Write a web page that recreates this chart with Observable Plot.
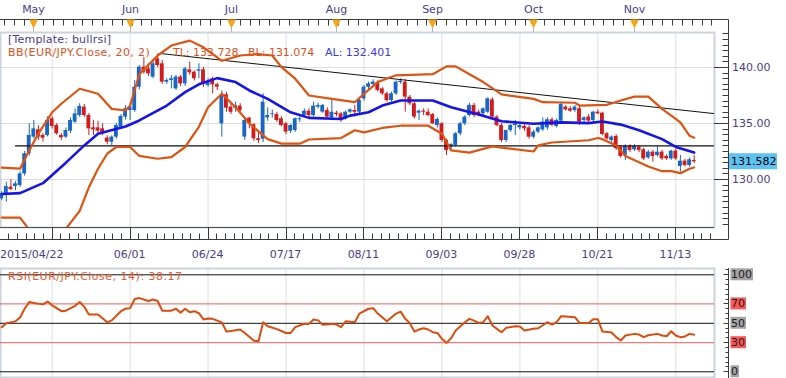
<!DOCTYPE html>
<html><head><meta charset="utf-8">
<script src="https://cdn.jsdelivr.net/npm/d3@7"></script>
<script src="https://cdn.jsdelivr.net/npm/@observablehq/plot@0.6"></script>
<style>
html,body{margin:0;padding:0;background:#fff;}
#wrap{position:relative;width:786px;height:378px;overflow:hidden;background:#fff;}
#wrap svg{position:absolute;left:0;overflow:visible;}
</style></head>
<body><div id="wrap"></div>
<script>
// ---- data: trading-day index 0 = 2015/04/22 (EUR/JPY daily) ----
const open = [128.27,128.72,129.31,129.37,129.46,130.5,132.29,133.78,134.43,133.93,
133.93,135.42,134.82,133.93,133.78,134.31,135.12,135.71,136.46,135.71,
134.61,134.61,134.52,133.69,133.33,133.78,134.67,135.57,136.16,136.16,
138.24,140.03,139.88,139.14,140.77,140.33,138.69,138.84,138.09,139.14,
138.54,139.79,139.58,139.67,139.79,138.39,138.99,138.46,134.97,137.56,
136.46,136.37,136.55,133.78,135.47,134.88,133.63,133.6,135.5,135.8,
135.8,135.42,134.97,134.31,134.37,135.33,135.71,136.1,135.71,136.46,
136.01,136.16,135.5,135.92,135.86,135.42,136.01,136.16,136.01,137.2,
138.24,138.48,138.6,138.09,137.65,137.05,137.65,138.66,138.69,137.35,
136.76,135.92,136.1,136.01,135.8,134.82,134.97,133.48,132.89,133.04,
134.08,134.97,135.71,136.61,136.01,135.86,136.01,137.11,135.57,134.82,
133.48,134.37,134.82,134.61,134.73,134.61,133.78,134.23,134.43,134.61,
135.33,134.73,135.21,136.46,136.31,136.16,136.31,135.27,135.57,135.27,
136.01,135.92,134.08,133.48,133.84,132.89,132.14,132.95,132.65,132.89,
132.65,131.93,132.44,132.14,132.44,132.05,131.84,132.53,131.16,131.64,
131.25,131.7];
const high = [128.9,129.76,129.97,129.8,130.7,132.5,134.97,135.27,134.8,134.1,
135.6,135.6,135.0,134.1,134.6,135.5,136.3,136.76,136.7,135.9,
135.27,135.2,134.97,133.9,133.9,135.0,135.8,136.6,136.8,138.84,
140.18,140.92,140.33,140.62,141.22,140.62,139.0,139.28,139.3,139.3,
140.03,140.48,139.7,140.33,140.0,139.0,139.13,138.6,137.9,137.8,
136.8,136.9,136.76,135.5,135.56,135.0,134.2,137.65,136.4,136.2,
136.0,135.6,135.1,134.9,135.5,135.6,136.3,136.3,136.9,136.8,
136.7,136.4,137.05,136.1,136.0,136.1,136.3,136.61,137.2,138.4,
138.7,138.9,138.8,138.2,137.8,137.8,138.8,139.0,138.9,137.5,
136.9,136.2,136.3,136.3,135.9,135.5,135.1,133.6,133.2,134.2,
135.1,135.7,136.8,136.8,136.2,136.4,137.3,137.3,135.7,135.0,
134.4,134.9,135.27,135.0,134.9,134.8,134.4,134.7,135.5,135.5,
135.5,135.4,136.8,136.6,136.5,136.6,136.5,135.6,135.8,136.1,
136.2,136.0,134.2,133.9,134.0,133.0,133.1,133.1,133.1,133.0,
132.8,132.6,132.6,132.95,132.6,132.2,132.6,132.7,132.14,131.8,
131.9,132.14];
const low = [128.1,127.97,129.0,129.0,129.3,130.3,132.1,133.6,133.5,133.33,
133.8,134.5,133.95,133.5,133.65,134.1,135.0,135.55,135.55,133.93,
133.93,134.0,133.9,133.1,133.04,133.6,134.5,135.3,135.27,136.0,
138.0,139.4,139.2,139.0,140.0,138.5,138.5,138.09,137.95,138.3,
138.3,139.3,138.8,138.99,138.24,138.24,137.65,137.95,133.78,136.0,
135.8,136.0,136.0,133.5,134.53,133.4,133.2,133.3,135.2,135.5,
135.1,134.7,134.0,134.1,134.2,135.1,135.5,135.5,135.6,136.3,
135.9,135.4,135.4,135.6,135.1,135.3,135.9,135.57,135.9,137.0,
138.0,138.3,137.8,137.5,136.9,136.9,137.5,138.5,136.01,136.6,
135.4,135.27,135.7,135.6,134.9,134.6,133.3,132.14,132.6,132.9,
133.9,134.8,135.6,135.5,135.6,135.7,135.9,135.4,134.7,133.3,
133.3,134.2,133.93,134.4,134.3,133.6,133.6,134.1,134.3,134.4,
134.7,134.6,135.1,136.1,136.0,136.0,134.82,135.1,135.1,135.1,
135.8,133.9,133.5,133.3,132.6,131.9,131.7,132.4,132.5,132.4,
131.7,131.8,131.55,132.0,131.7,131.7,131.7,131.7,130.65,131.1,
131.1,131.4];
const close = [128.72,129.37,129.1,129.61,130.5,132.29,133.93,134.52,133.78,133.69,
135.27,134.73,134.08,133.72,134.37,135.27,135.86,136.52,135.71,134.52,
134.43,134.31,134.08,133.33,133.78,134.82,135.62,136.31,136.46,138.24,
140.03,139.58,139.43,140.33,140.18,138.69,138.84,138.99,139.14,138.54,
139.88,139.52,138.99,139.79,138.54,138.69,138.46,138.24,137.44,136.37,
136.0,136.6,136.16,135.27,134.97,133.63,133.48,136.9,135.71,135.86,
135.27,134.82,134.23,134.82,135.42,135.42,136.1,135.71,136.55,136.61,
136.61,135.57,136.01,135.8,135.27,136.01,136.22,136.01,137.05,138.24,
138.54,138.69,137.95,137.65,137.05,137.65,138.69,138.78,137.35,136.76,
135.57,136.1,136.01,135.71,134.97,135.36,133.48,132.59,133.12,134.08,
134.97,135.57,136.61,135.71,135.71,136.31,137.2,135.57,134.82,133.48,
134.37,134.82,134.97,134.82,134.52,133.78,134.23,134.61,135.12,135.33,
134.82,135.27,136.7,136.22,136.1,136.46,135.12,135.5,135.21,136.01,
135.86,134.02,133.63,133.78,132.74,132.05,132.95,132.59,132.95,132.59,
131.84,132.44,132.05,132.44,131.84,131.84,132.53,131.84,131.64,131.25,
131.76,131.582];

// Bollinger bands (20, 2) as [dayIndex, value]
const bbUpper = [[0,131.05],[4,130.96],[6,132.6],[8,134.1],[11,136.0],[13,136.76],[17,138.1],[21,137.65],[24,136.3],[27,136.16],[28,136.6],[30,139.4],[34,141.07],[37,141.96],[41,142.4],[44,141.8],[48,140.6],[52,141.07],[56,141.2],[59,141.07],[61,140.03],[64,139.0],[67,137.5],[72,137.2],[77,136.9],[79,137.65],[82,138.7],[86,139.3],[94,139.4],[97,140.1],[99,140.1],[102,139.4],[105,138.7],[109,137.6],[116,137.2],[118,136.9],[125,136.85],[126,136.6],[132,136.67],[135,137.05],[138,137.4],[141,137.4],[144,136.3],[148,135.1],[150,133.9],[151,133.728]];
const bbMid = [[0,128.7],[4,128.78],[9,129.67],[14,131.5],[18,133.04],[21,134.08],[27,134.73],[30,135.27],[36,136.6],[40,137.8],[43,138.5],[47,139.05],[51,138.7],[54,137.95],[58,137.2],[63,136.0],[67,135.5],[74,135.4],[76,135.7],[80,136.0],[83,136.6],[87,137.05],[94,137.05],[98,136.45],[104,135.8],[109,135.2],[116,134.97],[122,135.1],[128,135.03],[131,135.18],[135,134.9],[139,134.4],[144,133.6],[147,132.9],[151,132.401]];
const bbLower = [[0,126.6],[4,126.6],[6,125.5],[9,124.2],[12,124.4],[14,125.6],[17,127.2],[19,129.3],[21,130.96],[23,132.3],[25,132.9],[28,132.9],[30,132.1],[34,131.85],[37,132.0],[40,132.9],[43,134.7],[45,136.45],[48,137.65],[51,136.45],[54,135.0],[58,133.6],[61,133.2],[65,133.2],[67,133.57],[74,133.7],[77,134.4],[79,134.2],[83,134.6],[87,134.8],[93,134.8],[96,134.08],[98,132.6],[102,132.4],[107,132.95],[109,132.85],[116,132.5],[117,133.04],[120,133.3],[128,133.5],[130,133.7],[131,133.6],[134,133.04],[136,132.1],[141,131.16],[144,130.74],[146,130.74],[148,130.56],[150,130.96],[151,131.074]];
// drawn lines: falling trend line and horizontal level
const trendLine = [[35,141.23],[155.4,135.88]];
const levelLine = [[3,133.0],[155.4,133.0]];
// RSI(14) as [dayIndex, value]
const rsi = [[0,46],[1,50],[3,52],[4,56],[5,65],[6,72],[7,71],[9,69.5],[10,72.5],[11,68.5],[13,62.5],[14,63],[16,68],[17,72],[18,67],[19,59],[21,59],[23,51],[24,53],[26,62.5],[27,65],[28,65.6],[29,75],[30,76],[32,73],[33,74.5],[34,73],[35,63],[37,63],[38,65],[39,61],[40,65],[41,61.4],[42,62.5],[43,60.4],[44,54],[45,55],[46,54.6],[48,51],[49,41.5],[50,42],[52,43.6],[53,40],[55,32],[56,31.5],[57,51],[58,47],[60,44],[62,40],[63,40],[64,46],[66,49.5],[67,49.4],[68,54],[69,53],[70,48.4],[72,49.4],[73,48.7],[74,46],[75,52],[77,51],[78,60],[80,65],[81,65.6],[82,60],[84,52],[86,60],[87,62],[88,54.6],[89,50.1],[90,41.5],[91,43.6],[92,44.9],[93,43.6],[94,40.8],[95,40.1],[96,34],[97,29.8],[98,34.6],[99,42.5],[101,51.1],[102,54.6],[103,52.8],[104,50.4],[105,51.1],[106,57.3],[107,47.7],[108,44.3],[109,40.8],[110,45.3],[112,47],[113,46.7],[114,42.5],[116,44.3],[117,44.9],[119,51.1],[120,48.7],[121,51.1],[122,57.3],[123,57],[125,56.3],[126,50.4],[128,50.4],[129,54.2],[130,54.2],[131,41.5],[133,40.5],[134,35.7],[135,32.2],[136,37.4],[138,39.1],[139,38.4],[140,35.7],[141,37.7],[143,39.1],[144,37.4],[145,36.7],[146,41.8],[147,37.4],[148,35.7],[149,36.4],[150,39.1],[151,38.17]];

// axis ticks / labels
const monthIdx = [7, 28, 50, 73, 94, 116, 138];
const monthLabels = ["May","Jun","Jul","Aug","Sep","Oct","Nov"];
const gridIdx = [11, 28, 45, 62, 79, 96, 113, 130, 147];
const dateIdx = [0, 28, 45, 62, 79, 96, 113, 130, 147];
const dateLabels = ["2015/04/22","06/01","06/24","07/17","08/11","09/03","09/28","10/21","11/13"];
const priceTicks = [130, 135, 140];
const rsiBlack = [0, 50, 100];
const rsiRed = [30, 70];
const rsiTicks = [100, 70, 50, 30, 0];

// ---- styles ----
const FONT = "DejaVu Sans, Verdana, sans-serif";
const UPC = "#1866c6", DNC = "#d41b1b", BAND = "#e0520e", MID = "#1414ee";
const AXIS = "#3a3a3a", LABEL = "#4a3c8c", GRID = "#dedede", BORDER = "#cad3de";
const xDomain = [-0.27, 155.44];
const yDomain = [125.71, 143.125];
const rDomain = [-5.88, 106.5];

const candles = close.map((c, i) => ({i, o: open[i], h: high[i], l: low[i], c, up: c >= open[i]}));
const P = d => d[0], V = d => d[1];

const mainChart = Plot.plot({
  width: 786, height: 260,
  marginLeft: 0, marginRight: 72, marginTop: 32, marginBottom: 33,
  x: {domain: xDomain, axis: null},
  y: {domain: yDomain, axis: null},
  style: {fontFamily: FONT, fontSize: "11px", background: "transparent", overflow: "visible"},
  marks: [
    Plot.ruleX(gridIdx, {x: d => d, stroke: GRID}),
    Plot.ruleY(priceTicks, {y: d => d, stroke: GRID}),
    Plot.frame({stroke: BORDER, strokeWidth: 2}),
    Plot.ruleX(candles, {filter: d => d.up, x: "i", y1: "l", y2: "h", stroke: UPC}),
    Plot.ruleX(candles, {filter: d => !d.up, x: "i", y1: "l", y2: "h", stroke: DNC}),
    Plot.rect(candles, {filter: d => d.up, x1: d => d.i - 0.42, x2: d => d.i + 0.42, y1: "o", y2: "c", fill: UPC}),
    Plot.rect(candles, {filter: d => !d.up, x1: d => d.i - 0.42, x2: d => d.i + 0.42, y1: "o", y2: "c", fill: DNC}),
    Plot.line(trendLine, {x: P, y: V, stroke: "#111", strokeWidth: 1, clip: true}),
    Plot.line(levelLine, {x: P, y: V, stroke: "#111", strokeWidth: 1.2, clip: true}),
    Plot.line(bbUpper, {x: P, y: V, stroke: BAND, strokeWidth: 2.2, clip: true}),
    Plot.line(bbLower, {x: P, y: V, stroke: BAND, strokeWidth: 2.2, clip: true}),
    Plot.line(bbMid, {x: P, y: V, stroke: MID, strokeWidth: 2.6, clip: true})
  ]
});

const rsiChart = Plot.plot({
  width: 786, height: 118,
  marginLeft: 0, marginRight: 72, marginTop: 8, marginBottom: 1,
  x: {domain: xDomain, axis: null},
  y: {domain: rDomain, axis: null},
  style: {fontFamily: FONT, fontSize: "11px", background: "transparent", overflow: "visible"},
  marks: [
    Plot.ruleX(gridIdx, {x: d => d, stroke: GRID}),
    Plot.frame({stroke: BORDER, strokeWidth: 2}),
    Plot.ruleY(rsiBlack, {y: d => d, stroke: "#111"}),
    Plot.ruleY(rsiRed, {y: d => d, stroke: "#f25a5a"}),
    Plot.line(rsi, {x: P, y: V, stroke: "#e04a0a", strokeWidth: 2, clip: true})
  ]
});

const wrap = document.getElementById("wrap");
mainChart.style.top = "0px";
rsiChart.style.top = "260px";
wrap.appendChild(mainChart);
wrap.appendChild(rsiChart);

function line(g, x1, y1, x2, y2, stroke, w) {
  g.append("line").attr("x1", x1).attr("y1", y1).attr("x2", x2).attr("y2", y2)
    .attr("stroke", stroke).attr("stroke-width", w || 1);
}
function txt(g, x, y, s, fill, anchor) {
  return g.append("text").attr("x", x).attr("y", y).attr("dy", "0.35em")
    .attr("text-anchor", anchor || "start").attr("fill", fill).text(s);
}

// ---- main panel chrome (rulers, price axis, legend) ----
{
  const sx = mainChart.scale("x"), sy = mainChart.scale("y");
  const X = v => sx.apply(v), Y = v => sy.apply(v);
  const XR = v => Math.round(X(v)) + 0.5, YR = v => Math.round(Y(v)) + 0.5;
  const right = X(xDomain[1]), top = Y(yDomain[1]), bottom = Y(yDomain[0]);
  const axisX = Math.round(right) + 14.5;
  const g = d3.select(mainChart).append("g").attr("font-family", FONT).attr("font-size", 11).attr("text-anchor", "start");

  // top month ruler
  const rt = Math.round(top) - 12.5;
  line(g, 0, rt, axisX, rt, AXIS);
  d3.range(monthIdx[0] - 3 * 2.143, xDomain[1], 2.143).forEach(v => {
    if (X(v) > 0) line(g, XR(v), rt, XR(v), rt + 6, AXIS);
  });
  monthIdx.forEach((v, k) => {
    const x = XR(v);
    line(g, x, rt + 8, x, top, "#b5b5b5");
    g.append("path").attr("d", `M${x - 4.5},${rt} L${x + 4.5},${rt} L${x},${rt + 9} Z`).attr("fill", "#f6a41c");
    txt(g, x, top - 23, monthLabels[k], LABEL, "middle");
  });

  // bottom date ruler
  const rb = Math.round(bottom) + 12.5;
  line(g, 0, Math.round(bottom) + 0.5, right, Math.round(bottom) + 0.5, "#555");
  line(g, 0, rb, axisX, rb, AXIS);
  d3.range(gridIdx[0] - 6 * 17 / 9, xDomain[1], 17 / 9).forEach(v => {
    if (X(v) > 0) line(g, XR(v), rb - 6, XR(v), rb, AXIS);
  });
  gridIdx.forEach(v => line(g, XR(v), bottom, XR(v), rb, AXIS));
  dateIdx.forEach((v, k) => txt(g, k === 0 ? 0 : X(v), bottom + 27, dateLabels[k], LABEL, k === 0 ? "start" : "middle"));

  // right price axis
  line(g, axisX, rt, axisX, rb, AXIS);
  d3.range(Math.ceil(yDomain[0] * 2) / 2, yDomain[1], 0.5).forEach(v => {
    const major = priceTicks.includes(v);
    line(g, major ? Math.round(right) : axisX - 6, YR(v), axisX, YR(v), AXIS);
  });
  priceTicks.forEach(v => txt(g, axisX + 3.5, Y(v), v.toFixed(2), LABEL));
  const last = close[close.length - 1];
  g.append("rect").attr("x", axisX + 0.5).attr("y", Y(last) - 8).attr("width", 48).attr("height", 16).attr("fill", "#5cc4f4");
  txt(g, axisX + 2.5, Y(last), last.toFixed(3), "#000");

  // legend
  txt(g, 8, top + 7, "[Template: bullrsi]", LABEL).attr("letter-spacing", 0.2);
  const t = g.append("text").attr("y", top + 20).attr("dy", "0.35em").attr("text-anchor", "start");
  t.append("tspan").attr("x", 8).attr("letter-spacing", 0.4).attr("fill", "#e0501a").text("BB(EUR/JPY.Close, 20, 2)");
  t.append("tspan").attr("x", 173).attr("fill", "#e0501a").text("TL: " + bbUpper[bbUpper.length - 1][1].toFixed(3));
  t.append("tspan").attr("x", 248).attr("fill", "#e0501a").text("BL: " + bbLower[bbLower.length - 1][1].toFixed(3));
  t.append("tspan").attr("x", 325).attr("fill", "#3838ee").text("AL: " + bbMid[bbMid.length - 1][1].toFixed(3));
}

// ---- RSI panel chrome ----
{
  const sx = rsiChart.scale("x"), sy = rsiChart.scale("y");
  const X = v => sx.apply(v), Y = v => sy.apply(v);
  const YR = v => Math.round(Y(v)) + 0.5;
  const right = X(xDomain[1]), top = Y(rDomain[1]), bottom = Y(rDomain[0]);
  const axisX = Math.round(right) + 14.5;
  const g = d3.select(rsiChart).append("g").attr("font-family", FONT).attr("font-size", 11).attr("text-anchor", "start");
  line(g, axisX, top, axisX, bottom + 1, AXIS);
  d3.range(0, rDomain[1], 5).forEach(v => {
    const major = rsiTicks.includes(v);
    line(g, axisX - (major ? 5 : 3), YR(v), axisX, YR(v), AXIS);
  });
  rsiTicks.forEach(v => {
    const red = rsiRed.includes(v);
    const rect = g.append("rect").attr("fill", red ? "#fb5656" : "#a4a4a4");
    const t = txt(g, axisX + 2.5, Y(v), String(v), "#1c1c1c");
    const w = t.node().getComputedTextLength();
    rect.attr("x", axisX + 2).attr("y", Y(v) - 6).attr("width", w + 1.5).attr("height", 12);
  });
  txt(g, 8, top + 8, "RSI(EUR/JPY.Close, 14): " + rsi[rsi.length - 1][1].toFixed(2), "#e8582a").attr("letter-spacing", 0.5);
}
</script>
</body></html>
